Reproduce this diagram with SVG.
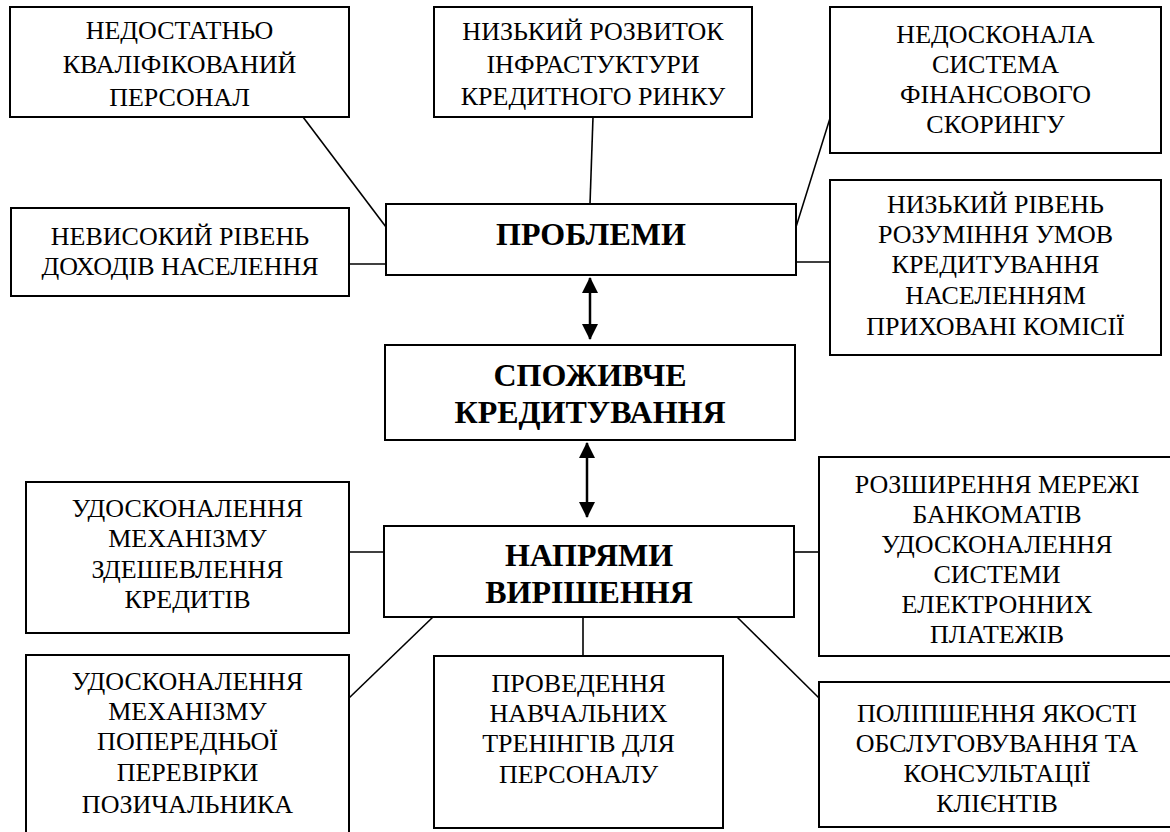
<svg xmlns="http://www.w3.org/2000/svg" width="1170" height="832" viewBox="0 0 1170 832">
<defs>
<marker id="ahe" viewBox="0 0 16 16" refX="15" refY="8" markerWidth="16" markerHeight="16" markerUnits="userSpaceOnUse" orient="auto">
<path d="M0,0 L16,8 L0,16 Z" fill="#000"/>
</marker>
<marker id="ahs" viewBox="0 0 16 16" refX="1" refY="8" markerWidth="16" markerHeight="16" markerUnits="userSpaceOnUse" orient="auto">
<path d="M16,0 L0,8 L16,16 Z" fill="#000"/>
</marker>
</defs>
<rect width="1170" height="832" fill="#fff"/>
<g id="connectors" stroke="#000" stroke-width="1.6" fill="none">
<line x1="303" y1="117" x2="386" y2="227"/>
<line x1="349" y1="264" x2="386" y2="264"/>
<line x1="593" y1="117" x2="590" y2="204"/>
<line x1="796" y1="227" x2="831" y2="115"/>
<line x1="796" y1="262" x2="830" y2="262"/>
<line x1="349" y1="552" x2="385" y2="552"/>
<line x1="433" y1="617" x2="349" y2="698"/>
<line x1="583" y1="617" x2="583" y2="656"/>
<line x1="737" y1="617" x2="819" y2="698"/>
<line x1="794" y1="552" x2="819" y2="552"/>
<line x1="590" y1="278" x2="590" y2="339" stroke-width="2.5" marker-start="url(#ahs)" marker-end="url(#ahe)"/>
<line x1="587" y1="443" x2="587" y2="517" stroke-width="2.5" marker-start="url(#ahs)" marker-end="url(#ahe)"/>
</g>
<g id="n1">
<rect x="10" y="7" width="339" height="110" fill="#fff" stroke="#000" stroke-width="2"/>
<text x="179.5" y="39" font-family="Times New Roman, serif" font-size="26" text-anchor="middle">НЕДОСТАТНЬО</text>
<text x="179.5" y="73" font-family="Times New Roman, serif" font-size="26" text-anchor="middle">КВАЛІФІКОВАНИЙ</text>
<text x="179.5" y="106" font-family="Times New Roman, serif" font-size="26" text-anchor="middle">ПЕРСОНАЛ</text>
</g>
<g id="n2">
<rect x="434" y="7" width="318" height="110" fill="#fff" stroke="#000" stroke-width="2"/>
<text x="593" y="40" font-family="Times New Roman, serif" font-size="26" text-anchor="middle">НИЗЬКИЙ РОЗВИТОК</text>
<text x="593" y="73" font-family="Times New Roman, serif" font-size="26" text-anchor="middle">ІНФРАСТУКТУРИ</text>
<text x="593" y="105" font-family="Times New Roman, serif" font-size="26" text-anchor="middle">КРЕДИТНОГО РИНКУ</text>
</g>
<g id="n3">
<rect x="830" y="7" width="331" height="146" fill="#fff" stroke="#000" stroke-width="2"/>
<text x="995.5" y="43" font-family="Times New Roman, serif" font-size="26" text-anchor="middle">НЕДОСКОНАЛА</text>
<text x="995.5" y="73" font-family="Times New Roman, serif" font-size="26" text-anchor="middle">СИСТЕМА</text>
<text x="995.5" y="103" font-family="Times New Roman, serif" font-size="26" text-anchor="middle">ФІНАНСОВОГО</text>
<text x="995.5" y="133" font-family="Times New Roman, serif" font-size="26" text-anchor="middle">СКОРИНГУ</text>
</g>
<g id="n4">
<rect x="11" y="208" width="338" height="88" fill="#fff" stroke="#000" stroke-width="2"/>
<text x="180" y="245" font-family="Times New Roman, serif" font-size="26" text-anchor="middle">НЕВИСОКИЙ РІВЕНЬ</text>
<text x="180" y="275" font-family="Times New Roman, serif" font-size="26" text-anchor="middle">ДОХОДІВ НАСЕЛЕННЯ</text>
</g>
<g id="problems">
<rect x="386" y="204" width="410" height="71" fill="#fff" stroke="#000" stroke-width="2"/>
<text x="591" y="245" font-family="Times New Roman, serif" font-size="32" font-weight="bold" text-anchor="middle">ПРОБЛЕМИ</text>
</g>
<g id="n5">
<rect x="830" y="180" width="331" height="175" fill="#fff" stroke="#000" stroke-width="2"/>
<text x="995.5" y="213" font-family="Times New Roman, serif" font-size="26" text-anchor="middle">НИЗЬКИЙ РІВЕНЬ</text>
<text x="995.5" y="243" font-family="Times New Roman, serif" font-size="26" text-anchor="middle">РОЗУМІННЯ УМОВ</text>
<text x="995.5" y="273" font-family="Times New Roman, serif" font-size="26" text-anchor="middle">КРЕДИТУВАННЯ</text>
<text x="995.5" y="304" font-family="Times New Roman, serif" font-size="26" text-anchor="middle">НАСЕЛЕННЯМ</text>
<text x="995.5" y="335" font-family="Times New Roman, serif" font-size="26" text-anchor="middle">ПРИХОВАНІ КОМІСІЇ</text>
</g>
<g id="consumer">
<rect x="385" y="345" width="410" height="95" fill="#fff" stroke="#000" stroke-width="2"/>
<text x="590" y="386" font-family="Times New Roman, serif" font-size="32" font-weight="bold" text-anchor="middle">СПОЖИВЧЕ</text>
<text x="590" y="423" font-family="Times New Roman, serif" font-size="32" font-weight="bold" text-anchor="middle">КРЕДИТУВАННЯ</text>
</g>
<g id="directions">
<rect x="384" y="526" width="410" height="91" fill="#fff" stroke="#000" stroke-width="2"/>
<text x="589" y="566" font-family="Times New Roman, serif" font-size="32" font-weight="bold" text-anchor="middle">НАПРЯМИ</text>
<text x="589" y="603" font-family="Times New Roman, serif" font-size="32" font-weight="bold" text-anchor="middle">ВИРІШЕННЯ</text>
</g>
<g id="n6">
<rect x="26" y="482" width="323" height="151" fill="#fff" stroke="#000" stroke-width="2"/>
<text x="187.5" y="517" font-family="Times New Roman, serif" font-size="26" text-anchor="middle">УДОСКОНАЛЕННЯ</text>
<text x="187.5" y="547" font-family="Times New Roman, serif" font-size="26" text-anchor="middle">МЕХАНІЗМУ</text>
<text x="187.5" y="578" font-family="Times New Roman, serif" font-size="26" text-anchor="middle">ЗДЕШЕВЛЕННЯ</text>
<text x="187.5" y="608" font-family="Times New Roman, serif" font-size="26" text-anchor="middle">КРЕДИТІВ</text>
</g>
<g id="n7">
<rect x="26" y="655" width="323" height="190" fill="#fff" stroke="#000" stroke-width="2"/>
<text x="187.5" y="690" font-family="Times New Roman, serif" font-size="26" text-anchor="middle">УДОСКОНАЛЕННЯ</text>
<text x="187.5" y="720" font-family="Times New Roman, serif" font-size="26" text-anchor="middle">МЕХАНІЗМУ</text>
<text x="187.5" y="750" font-family="Times New Roman, serif" font-size="26" text-anchor="middle">ПОПЕРЕДНЬОЇ</text>
<text x="187.5" y="781" font-family="Times New Roman, serif" font-size="26" text-anchor="middle">ПЕРЕВІРКИ</text>
<text x="187.5" y="813" font-family="Times New Roman, serif" font-size="26" text-anchor="middle">ПОЗИЧАЛЬНИКА</text>
</g>
<g id="n8">
<rect x="434" y="656" width="289" height="172" fill="#fff" stroke="#000" stroke-width="2"/>
<text x="578.5" y="692" font-family="Times New Roman, serif" font-size="26" text-anchor="middle">ПРОВЕДЕННЯ</text>
<text x="578.5" y="722" font-family="Times New Roman, serif" font-size="26" text-anchor="middle">НАВЧАЛЬНИХ</text>
<text x="578.5" y="752" font-family="Times New Roman, serif" font-size="26" text-anchor="middle">ТРЕНІНГІВ ДЛЯ</text>
<text x="578.5" y="783" font-family="Times New Roman, serif" font-size="26" text-anchor="middle">ПЕРСОНАЛУ</text>
</g>
<g id="n9">
<rect x="819" y="457" width="356" height="199" fill="#fff" stroke="#000" stroke-width="2"/>
<text x="997" y="493" font-family="Times New Roman, serif" font-size="26" text-anchor="middle">РОЗШИРЕННЯ МЕРЕЖІ</text>
<text x="997" y="523" font-family="Times New Roman, serif" font-size="26" text-anchor="middle">БАНКОМАТІВ</text>
<text x="997" y="553" font-family="Times New Roman, serif" font-size="26" text-anchor="middle">УДОСКОНАЛЕННЯ</text>
<text x="997" y="583" font-family="Times New Roman, serif" font-size="26" text-anchor="middle">СИСТЕМИ</text>
<text x="997" y="613" font-family="Times New Roman, serif" font-size="26" text-anchor="middle">ЕЛЕКТРОННИХ</text>
<text x="997" y="643" font-family="Times New Roman, serif" font-size="26" text-anchor="middle">ПЛАТЕЖІВ</text>
</g>
<g id="n10">
<rect x="819" y="682" width="356" height="145" fill="#fff" stroke="#000" stroke-width="2"/>
<text x="997" y="722" font-family="Times New Roman, serif" font-size="26" text-anchor="middle">ПОЛІПШЕННЯ ЯКОСТІ</text>
<text x="997" y="752" font-family="Times New Roman, serif" font-size="26" text-anchor="middle">ОБСЛУГОВУВАННЯ ТА</text>
<text x="997" y="782" font-family="Times New Roman, serif" font-size="26" text-anchor="middle">КОНСУЛЬТАЦІЇ</text>
<text x="997" y="812" font-family="Times New Roman, serif" font-size="26" text-anchor="middle">КЛІЄНТІВ</text>
</g>
</svg>
